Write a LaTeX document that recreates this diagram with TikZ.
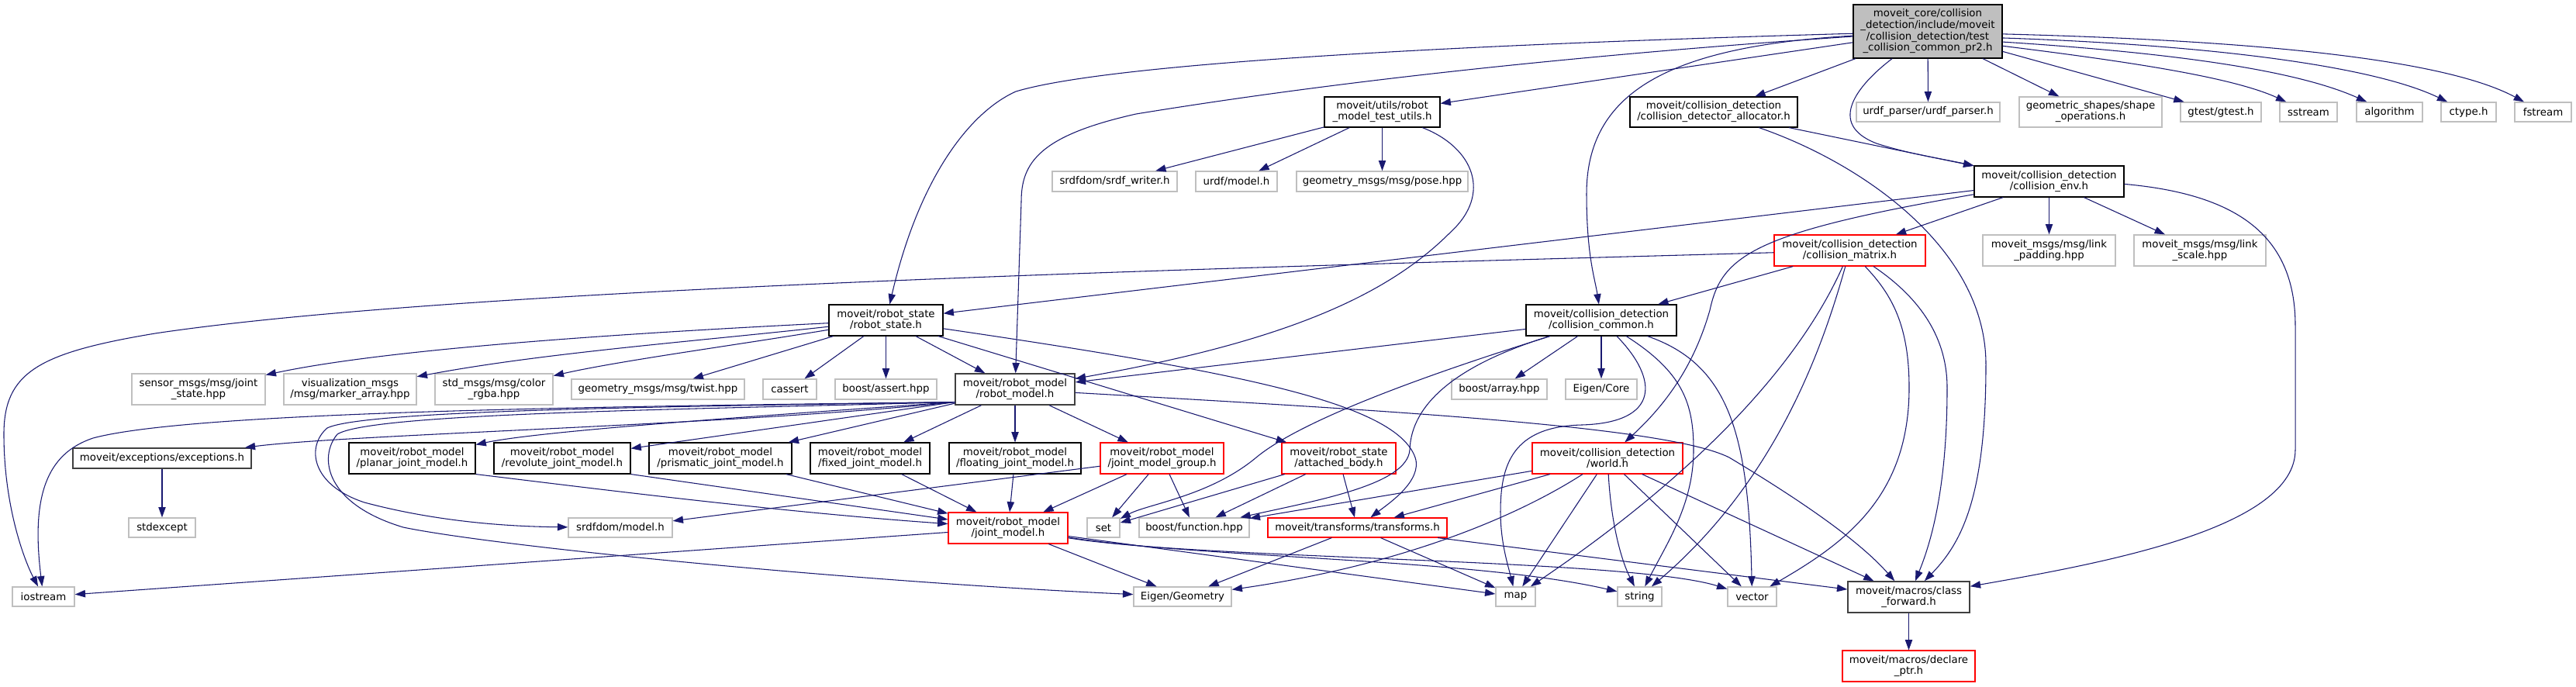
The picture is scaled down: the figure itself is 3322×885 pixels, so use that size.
\documentclass[tikz,border=0pt]{standalone}
\usepackage{fontspec}
\setmainfont{DejaVu Sans}
\usetikzlibrary{arrows.meta}
\definecolor{eblue}{HTML}{191970}
\definecolor{lgray}{HTML}{BFBFBF}
\definecolor{dgray}{HTML}{404040}
\newcommand{\nd}[7]{\node[#1, minimum width={(#5-#3)*0.75pt}, minimum height={(#6-#4)*0.75pt}] (#2) at ({(#3+#5)/2},{(#4+#6)/2}) {#7};}
\begin{document}
\begin{tikzpicture}[x=0.75pt,y=-0.75pt,
 box/.style={rectangle, inner sep=0pt, align=center, fill=white, font=\fontsize{10}{10.5}\selectfont},
 leaf/.style={box, draw=lgray, line width=1pt},
 inc/.style={box, draw=black, line width=0.85pt},
 darkbox/.style={box, draw=dgray, line width=1.1pt},
 trunc/.style={box, draw=red, line width=0.85pt},
 rootbox/.style={box, draw=black, fill=lgray, line width=0.85pt, font=\fontsize{10}{11}\selectfont},
 dep/.style={draw=eblue, line width=0.8pt, -{Triangle[length=10pt,width=7pt]}}]
\fill[white] (0,0) rectangle (3322,885);
\useasboundingbox (0,0) rectangle (3322,885);

% nodes
\nd{rootbox}{root}{2390}{6}{2582}{75}{moveit\_core/collision\\\_detection/include/moveit\\/collision\_detection/test\\\_collision\_common\_pr2.h}
\nd{inc}{tu}{1708}{125}{1857}{164}{moveit/utils/robot\\\_model\_test\_utils.h}
\nd{inc}{alloc}{2102}{125}{2318}{164}{moveit/collision\_detection\\/collision\_detector\_allocator.h}
\nd{leaf}{urdfp}{2394}{132}{2579}{157}{urdf\_parser/urdf\_parser.h}
\nd{leaf}{geo}{2604}{125}{2788}{164}{geometric\_shapes/shape\\\_operations.h}
\nd{leaf}{gtest}{2812}{132}{2916}{157}{gtest/gtest.h}
\nd{leaf}{sstream}{2940}{132}{3014}{157}{sstream}
\nd{leaf}{algorithm}{3039}{132}{3124}{157}{algorithm}
\nd{leaf}{ctype}{3148}{132}{3219}{157}{ctype.h}
\nd{leaf}{fstream}{3243}{132}{3316}{157}{fstream}
\nd{leaf}{srdfw}{1357}{221}{1518}{247}{srdfdom/srdf\_writer.h}
\nd{leaf}{urdfm}{1542}{221}{1647}{247}{urdf/model.h}
\nd{leaf}{pose}{1672}{221}{1893}{247}{geometry\_msgs/msg/pose.hpp}
\nd{inc}{cenv}{2546}{214}{2739}{254}{moveit/collision\_detection\\/collision\_env.h}
\nd{trunc}{cmat}{2288}{303}{2483}{343}{moveit/collision\_detection\\/collision\_matrix.h}
\nd{leaf}{pad}{2557}{303}{2728}{343}{moveit\_msgs/msg/link\\\_padding.hpp}
\nd{leaf}{nscale}{2752}{303}{2922}{343}{moveit\_msgs/msg/link\\\_scale.hpp}
\nd{inc}{rstate}{1069}{393}{1216}{433}{moveit/robot\_state\\/robot\_state.h}
\nd{inc}{ccommon}{1968}{393}{2162}{433}{moveit/collision\_detection\\/collision\_common.h}
\nd{leaf}{jstate}{170}{482}{342}{522}{sensor\_msgs/msg/joint\\\_state.hpp}
\nd{leaf}{marker}{366}{482}{537}{522}{visualization\_msgs\\/msg/marker\_array.hpp}
\nd{leaf}{rgba}{561}{482}{713}{522}{std\_msgs/msg/color\\\_rgba.hpp}
\nd{leaf}{twist}{737}{489}{960}{515}{geometry\_msgs/msg/twist.hpp}
\nd{leaf}{cassert}{984}{489}{1053}{515}{cassert}
\nd{leaf}{bassert}{1077}{489}{1208}{515}{boost/assert.hpp}
\nd{darkbox}{rmodel}{1232}{482}{1386}{522}{moveit/robot\_model\\/robot\_model.h}
\nd{leaf}{barray}{1872}{489}{1995}{515}{boost/array.hpp}
\nd{leaf}{ecore}{2019}{489}{2111}{515}{Eigen/Core}
\nd{darkbox}{exc}{94}{578}{324}{604}{moveit/exceptions/exceptions.h}
\nd{inc}{planar}{450}{571}{613}{611}{moveit/robot\_model\\/planar\_joint\_model.h}
\nd{inc}{revolute}{637}{571}{813}{611}{moveit/robot\_model\\/revolute\_joint\_model.h}
\nd{inc}{prismatic}{837}{571}{1021}{611}{moveit/robot\_model\\/prismatic\_joint\_model.h}
\nd{inc}{fixed}{1045}{571}{1199}{611}{moveit/robot\_model\\/fixed\_joint\_model.h}
\nd{inc}{floating}{1224}{571}{1394}{611}{moveit/robot\_model\\/floating\_joint\_model.h}
\nd{trunc}{jmg}{1419}{571}{1578}{611}{moveit/robot\_model\\/joint\_model\_group.h}
\nd{trunc}{attached}{1653}{571}{1800}{611}{moveit/robot\_state\\/attached\_body.h}
\nd{trunc}{world}{1976}{571}{2170}{611}{moveit/collision\_detection\\/world.h}
\nd{leaf}{stdexcept}{166}{668}{252}{693}{stdexcept}
\nd{leaf}{srdfm}{733}{668}{867}{693}{srdfdom/model.h}
\nd{trunc}{jmodel}{1223}{661}{1377}{701}{moveit/robot\_model\\/joint\_model.h}
\nd{leaf}{nset}{1402}{668}{1444}{693}{set}
\nd{leaf}{bfunc}{1469}{668}{1611}{693}{boost/function.hpp}
\nd{trunc}{transforms}{1635}{668}{1866}{693}{moveit/transforms/transforms.h}
\nd{leaf}{iostream}{16}{757}{96}{782}{iostream}
\nd{leaf}{egeom}{1462}{757}{1588}{782}{Eigen/Geometry}
\nd{leaf}{nmap}{1929}{757}{1980}{782}{map}
\nd{leaf}{nstring}{2086}{757}{2143}{782}{string}
\nd{leaf}{nvector}{2228}{757}{2291}{782}{vector}
\nd{darkbox}{cfwd}{2383}{750}{2540}{790}{moveit/macros/class\\\_forward.h}
\nd{trunc}{dptr}{2376}{839}{2547}{879}{moveit/macros/declare\\\_ptr.h}

% root edges
\draw[dep] (root) .. controls (1800,60) and (1420,85) .. (1310,118) .. controls (1250,145) and (1185,230) .. (rstate);
\draw[dep] (root) .. controls (1900,80) and (1600,125) .. (1465,147) .. controls (1340,175) and (1317,210) .. (1317,260) -- (rmodel);
\draw[dep] (root) -- (tu);
\draw[dep] (root) .. controls (2150,60) and (2046,120) .. (2046,250) .. controls (2046,330) and (2057,360) .. (ccommon);
\draw[dep] (root) -- (alloc);
\draw[dep] (root) .. controls (2395,110) and (2355,160) .. (2420,185) .. controls (2460,198) and (2500,204) .. (cenv);
\draw[dep] (root) -- (urdfp);
\draw[dep] (root) -- (geo);
\draw[dep] (root.-15) -- (gtest);
\draw[dep] (root.-11) .. controls (2750,80) and (2880,100) .. (sstream);
\draw[dep] (root.-8) .. controls (2800,68) and (2960,90) .. (algorithm);
\draw[dep] (root.-5) .. controls (2850,58) and (3060,85) .. (ctype);
\draw[dep] (root.-2) .. controls (2900,52) and (3150,75) .. (fstream);

% test utils
\draw[dep] (tu) -- (srdfw);
\draw[dep] (tu) -- (urdfm);
\draw[dep] (tu) -- (pose);
\draw[dep] (tu) .. controls (1900,190) and (1925,250) .. (1870,300) .. controls (1790,380) and (1660,440) .. (rmodel);

% allocator
\draw[dep] (alloc) -- (cenv);
\draw[dep] (alloc) .. controls (2400,210) and (2561,320) .. (2561,470) .. controls (2561,640) and (2530,700) .. (cfwd);

% collision env
\draw[dep] (cenv) -- (cmat);
\draw[dep] (cenv) -- (pad);
\draw[dep] (cenv) -- (nscale);
\draw[dep] (cenv.-2) .. controls (2880,250) and (2960,300) .. (2960,420) -- (2960,580) .. controls (2960,680) and (2720,725) .. (cfwd);
\draw[dep] (cenv) -- (rstate);
\draw[dep] (cenv) .. controls (2260,300) and (2220,330) .. (2205,400) .. controls (2185,470) and (2150,520) .. (world);

% collision matrix
\draw[dep] (cmat) -- (ccommon);
\draw[dep] (cmat) .. controls (1600,345) and (600,370) .. (200,430) .. controls (50,455) and (5,480) .. (5,560) .. controls (5,650) and (30,720) .. (iostream);
\draw[dep] (cmat) .. controls (2320,470) and (2190,610) .. (nmap);
\draw[dep] (cmat) .. controls (2350,450) and (2290,620) .. (nstring);
\draw[dep] (cmat) .. controls (2440,380) and (2462,420) .. (2462,500) .. controls (2462,640) and (2380,700) .. (nvector);
\draw[dep] (cmat) .. controls (2470,380) and (2511,430) .. (2511,500) .. controls (2511,630) and (2490,700) .. (cfwd);

% collision common
\draw[dep] (ccommon) -- (barray);
\draw[dep] (ccommon) -- (ecore);
\draw[dep] (ccommon) -- (rmodel);
\draw[dep] (ccommon) .. controls (1850,480) and (1680,540) .. (1620,590) .. controls (1560,640) and (1480,650) .. (nset);
\draw[dep] (ccommon) .. controls (1880,470) and (1820,520) .. (1818,580) .. controls (1815,625) and (1700,645) .. (bfunc);
\draw[dep] (ccommon) .. controls (2140,490) and (2140,545) .. (2040,548) .. controls (1950,550) and (1935,600) .. (1935,660) .. controls (1935,700) and (1945,730) .. (nmap);
\draw[dep] (ccommon) .. controls (2170,480) and (2184,520) .. (2184,580) .. controls (2184,650) and (2150,700) .. (nstring);
\draw[dep] (ccommon) .. controls (2230,470) and (2255,560) .. (nvector);

% robot state
\draw[dep] (rstate) .. controls (800,430) and (500,450) .. (jstate);
\draw[dep] (rstate) .. controls (900,440) and (700,455) .. (marker);
\draw[dep] (rstate) .. controls (950,445) and (800,465) .. (rgba);
\draw[dep] (rstate) -- (twist);
\draw[dep] (rstate) -- (cassert);
\draw[dep] (rstate) -- (bassert);
\draw[dep] (rstate) -- (rmodel);
\draw[dep] (rstate) -- (attached);
\draw[dep] (rstate) .. controls (1600,480) and (1800,520) .. (1825,590) .. controls (1835,620) and (1790,650) .. (transforms);

% robot model
\draw[dep] (rmodel.192) .. controls (950,548) and (450,560) .. (exc);
\draw[dep] (rmodel.192) .. controls (800,524) and (250,530) .. (120,565) .. controls (60,585) and (40,640) .. (iostream);
\draw[dep] (rmodel.192) .. controls (900,524) and (470,528) .. (422,552) .. controls (395,575) and (400,625) .. (470,648) .. controls (560,672) and (650,679) .. (srdfm);
\draw[dep] (rmodel.192) .. controls (900,528) and (480,532) .. (435,560) .. controls (410,590) and (420,650) .. (520,680) .. controls (640,705) and (1100,750) .. (egeom);
\draw[dep] (rmodel.192) .. controls (1000,535) and (700,555) .. (planar);
\draw[dep] (rmodel.192) -- (revolute);
\draw[dep] (rmodel) -- (prismatic);
\draw[dep] (rmodel) -- (fixed);
\draw[dep] (rmodel) -- (floating);
\draw[dep] (rmodel) -- (jmg);
\draw[dep] (rmodel) .. controls (1800,530) and (2150,550) .. (2230,590) .. controls (2330,650) and (2400,700) .. (cfwd);

\draw[dep] (exc) -- (stdexcept);

% joint models
\draw[dep] (planar.south east) .. controls (750,628) and (1000,660) .. (jmodel);
\draw[dep] (revolute.south east) -- (jmodel);
\draw[dep] (prismatic) -- (jmodel);
\draw[dep] (fixed) -- (jmodel);
\draw[dep] (floating) -- (jmodel);
\draw[dep] (jmg) -- (jmodel);
\draw[dep] (jmg) -- (srdfm);
\draw[dep] (jmg) -- (nset);
\draw[dep] (jmg) -- (bfunc);

% attached body
\draw[dep] (attached) -- (nset);
\draw[dep] (attached) -- (bfunc);
\draw[dep] (attached) -- (transforms);

% world
\draw[dep] (world) -- (bfunc);
\draw[dep] (world) -- (transforms);
\draw[dep] (world) .. controls (1950,670) and (1800,730) .. (egeom);
\draw[dep] (world) -- (nmap);
\draw[dep] (world) .. controls (2078,680) and (2092,725) .. (nstring);
\draw[dep] (world) -- (nvector);
\draw[dep] (world) -- (cfwd);

% transforms
\draw[dep] (transforms) -- (egeom);
\draw[dep] (transforms) -- (nmap);
\draw[dep] (transforms) -- (cfwd);

% joint model
\draw[dep] (jmodel) -- (iostream);
\draw[dep] (jmodel) -- (egeom);
\draw[dep] (jmodel) -- (nmap);
\draw[dep] (jmodel) .. controls (1550,720) and (1900,720) .. (nstring);
\draw[dep] (jmodel) .. controls (1550,722) and (2100,720) .. (nvector);

\draw[dep] (cfwd) -- (dptr);
\end{tikzpicture}
\end{document}
